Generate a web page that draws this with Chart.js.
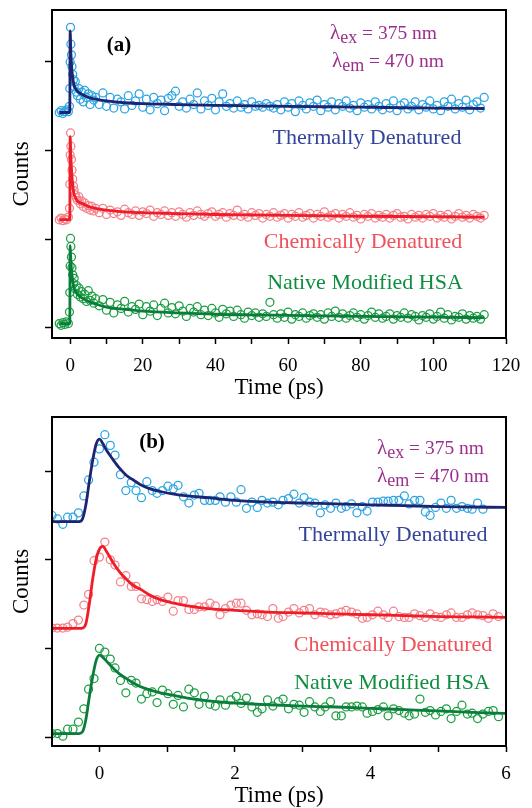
<!DOCTYPE html>
<html>
<head>
<meta charset="utf-8">
<script src="https://cdn.jsdelivr.net/npm/chart.js@4.4.1/dist/chart.umd.min.js"></script>
<style>
html,body{margin:0;padding:0;background:#fff;overflow:hidden;width:532px;height:808px}
.panel{position:absolute;left:0;width:532px}
#boxA{top:0}
#boxB{top:400px}
</style>
</head>
<body>
<div class="panel" id="boxA"><canvas id="chartA" width="532" height="406"></canvas></div>
<div class="panel" id="boxB"><canvas id="chartB" width="532" height="414"></canvas></div>
<script>
// panel (a): full 0-115 ps decay
const timeA = [-3,-2.5,-2,-1.5,-1,-0.5,-0.2,-0.1,0,0.1,0.2,0.35,0.5,0.7,0.9,1.1,1.4,1.7,2,2.4,2.8,3.2,3.6,4,4.5,5,5.5,6,6.5,7,
  8,9,10,11,12,13,14,15,16,17,18,19,20,21,22,23,24,25,26,27,28,29,30,31,32,33,34,35,36,37,38,39,40,41,42,43,44,45,46,47,
  48,49,50,51,52,53,54,55,56,57,58,59,60,61,62,63,64,65,66,67,68,69,70,71,72,73,74,75,76,77,78,79,80,81,82,83,84,85,86,87,
  88,89,90,91,92,93,94,95,96,97,98,99,100,101,102,103,104,105,106,107,108,109,110,111,112,113,114];
const thermalA = [2.43,2.45,2.42,2.44,2.46,2.44,2.50,2.70,3.00,3.39,3.20,3.08,2.95,2.86,2.80,2.72,2.78,2.66,2.62,2.70,
  2.58,2.66,2.55,2.68,2.60,2.64,2.52,2.62,2.57,2.60,
  2.52,2.65,2.50,2.60,2.48,2.58,2.55,2.47,2.62,2.51, 2.56,2.64,2.49,2.58,2.46,2.60,2.53,2.57,2.45,2.59,
  2.62,2.67,2.50,2.55,2.48,2.58,2.52,2.65,2.47,2.56, 2.51,2.59,2.46,2.55,2.64,2.50,2.53,2.48,2.56,2.49,
  2.52,2.47,2.55,2.50,2.51,2.49,2.53,2.50,2.48,2.52, 2.46,2.55,2.49,2.53,2.44,2.56,2.51,2.47,2.54,2.50,
  2.57,2.45,2.52,2.49,2.55,2.46,2.53,2.50,2.56,2.48, 2.51,2.45,2.54,2.49,2.52,2.47,2.55,2.50,2.46,2.53,
  2.48,2.56,2.45,2.51,2.54,2.47,2.50,2.55,2.46,2.52, 2.49,2.56,2.47,2.51,2.45,2.55,2.50,2.58,2.47,2.53,
  2.49,2.57,2.46,2.52,2.55,2.48,2.60];
const chemicalA = [1.22,1.24,1.21,1.23,1.22,1.25,1.35,1.62,1.95,2.20,2.05,1.90,1.78,1.68,1.60,1.55,1.50,1.47,1.44,1.48,
  1.40,1.43,1.37,1.41,1.35,1.38,1.33,1.37,1.32,1.35,
  1.30,1.35,1.28,1.33,1.29,1.31,1.27,1.34,1.30,1.28, 1.32,1.27,1.31,1.29,1.33,1.26,1.30,1.28,1.32,1.27,
  1.30,1.26,1.31,1.28,1.25,1.30,1.27,1.32,1.28,1.26, 1.29,1.31,1.26,1.28,1.30,1.25,1.29,1.27,1.33,1.26,
  1.28,1.25,1.30,1.27,1.29,1.24,1.28,1.26,1.30,1.25, 1.27,1.29,1.24,1.28,1.26,1.30,1.25,1.27,1.29,1.24,
  1.28,1.26,1.31,1.25,1.27,1.29,1.24,1.28,1.26,1.30, 1.25,1.27,1.23,1.28,1.26,1.29,1.24,1.27,1.25,1.28,
  1.24,1.27,1.29,1.25,1.26,1.23,1.28,1.25,1.27,1.24, 1.28,1.26,1.29,1.24,1.27,1.25,1.28,1.23,1.26,1.29,
  1.25,1.27,1.24,1.28,1.26,1.24,1.27];
const nativeA = [0.05,0.03,0.06,0.04,0.07,0.05,0.18,0.40,0.70,1.01,0.92,0.80,0.68,0.60,0.50,0.56,0.44,0.48,0.38,0.45,
  0.35,0.41,0.33,0.38,0.30,0.42,0.31,0.36,0.28,0.33,
  0.25,0.32,0.20,0.29,0.17,0.26,0.22,0.30,0.18,0.24, 0.21,0.27,0.15,0.24,0.19,0.26,0.14,0.22,0.28,0.17,
  0.23,0.16,0.25,0.19,0.13,0.22,0.18,0.24,0.15,0.20, 0.14,0.22,0.17,0.12,0.21,0.16,0.19,0.13,0.20,0.15,
  0.11,0.18,0.14,0.17,0.12,0.16,0.13,0.29,0.15,0.11, 0.16,0.12,0.18,0.10,0.15,0.13,0.17,0.11,0.14,0.16,
  0.12,0.15,0.10,0.17,0.13,0.19,0.12,0.16,0.11,0.14, 0.17,0.12,0.15,0.10,0.14,0.18,0.12,0.16,0.11,0.13,
  0.16,0.10,0.14,0.12,0.17,0.11,0.15,0.13,0.09,0.14, 0.12,0.16,0.10,0.13,0.18,0.11,0.15,0.09,0.13,0.12,
  0.16,0.10,0.14,0.11,0.13,0.10,0.15];
const fitTimeA = [-3,-0.1,0,0.2,0.5,1,1.5,2,3,4,5,7,10,15,20,30,40,50,60,80,100,114];
const thermalFitA = [2.43,2.43,3.35,3.10,2.90,2.75,2.70,2.67,2.64,2.62,2.60,2.58,2.56,2.54,2.53,2.52,2.51,2.505,2.50,2.49,2.48,2.475];
const chemicalFitA = [1.222,1.222,2.158,1.92,1.71,1.52,1.47,1.43,1.41,1.39,1.37,1.35,1.33,1.31,1.30,1.29,1.28,1.275,1.27,1.26,1.255,1.25];
const nativeFitA = [0.049,0.049,0.928,0.75,0.60,0.46,0.41,0.38,0.345,0.32,0.30,0.27,0.235,0.21,0.19,0.17,0.155,0.148,0.143,0.132,0.122,0.116];
const labeledA = [0,20,40,60,80,100,120];

// panel (b): first 6 ps
const timeB = [-0.70,-0.62,-0.54,-0.47,-0.39,-0.31,-0.23,-0.16,-0.08,0.00,0.08,0.16,0.23,0.31,0.39,0.47,0.54,0.62,0.70,0.78,
  0.85,0.93,1.01,1.09,1.16,1.24,1.32,1.40,1.47,1.55,1.63,1.71,1.78,1.86,1.94,2.02,2.09,2.17,2.25,2.33,
  2.40,2.48,2.56,2.64,2.71,2.79,2.87,2.95,3.02,3.10,3.18,3.26,3.33,3.41,3.49,3.57,3.64,3.72,3.80,3.88,
  3.95,4.03,4.11,4.19,4.26,4.34,4.42,4.50,4.57,4.65,4.73,4.81,4.88,4.96,5.04,5.12,5.19,5.27,5.35,5.43,
  5.50,5.58,5.66,5.74,5.81,5.89];
const thermalB = [2.50,2.46,2.40,2.48,2.48,2.53,2.72,2.90,3.10,3.25,3.41,3.29,3.18,2.96,2.78,2.87,2.78,2.70,2.88,2.78,
  2.75,2.78,2.83,2.80,2.84,2.71,2.64,2.73,2.75,2.67,2.67,2.67,2.71,2.65,2.71,2.65,2.79,2.58,2.65,2.59,
  2.67,2.64,2.65,2.62,2.67,2.69,2.74,2.64,2.70,2.65,2.64,2.53,2.62,2.58,2.64,2.58,2.60,2.63,2.53,2.60,
  2.55,2.65,2.65,2.66,2.66,2.67,2.67,2.72,2.63,2.67,2.67,2.54,2.50,2.59,2.64,2.58,2.67,2.58,2.60,2.58,
  2.57,2.64,2.57];
const chemicalB = [1.23,1.23,1.23,1.24,1.28,1.32,1.49,1.61,1.99,2.03,2.20,2.00,1.94,1.75,1.82,1.70,1.70,1.56,1.55,1.53,
  1.55,1.53,1.58,1.42,1.54,1.54,1.44,1.44,1.47,1.47,1.51,1.48,1.38,1.45,1.49,1.51,1.51,1.43,1.38,1.39,
  1.38,1.36,1.45,1.34,1.36,1.41,1.45,1.40,1.43,1.45,1.38,1.41,1.40,1.38,1.39,1.41,1.43,1.41,1.39,1.34,
  1.35,1.38,1.42,1.38,1.35,1.42,1.36,1.35,1.35,1.39,1.37,1.35,1.39,1.36,1.35,1.38,1.40,1.35,1.35,1.38,
  1.40,1.38,1.37,1.34,1.39,1.36];
const nativeB = [0.04,0.04,0.01,0.09,0.09,0.17,0.32,0.54,0.66,1.00,0.96,0.88,0.78,0.64,0.50,0.64,0.61,0.43,0.49,0.51,
  0.39,0.53,0.49,0.37,0.47,0.34,0.54,0.50,0.37,0.46,0.37,0.35,0.42,0.36,0.42,0.46,0.38,0.44,0.34,0.28,
  0.32,0.42,0.35,0.40,0.43,0.32,0.37,0.36,0.28,0.40,0.34,0.29,0.34,0.40,0.24,0.24,0.34,0.34,0.35,0.34,
  0.27,0.29,0.31,0.34,0.24,0.32,0.30,0.27,0.24,0.26,0.43,0.28,0.30,0.25,0.29,0.32,0.21,0.29,0.36,0.26,
  0.27,0.21,0.26,0.29,0.30,0.23];
const fitTimeB = [-0.70,-0.30,-0.25,-0.20,-0.15,-0.10,-0.05,0.00,0.05,0.10,0.20,0.30,0.40,0.50,0.60,0.75,0.90,1.10,1.30,1.60,
  2.00,2.50,3.00,3.50,4.00,4.50,5.00,5.50,6.00];
const thermalFitB = [2.43,2.43,2.46,2.62,2.88,3.12,3.30,3.36,3.31,3.24,3.13,3.03,2.95,2.90,2.85,2.80,2.77,2.74,2.72,2.70,
  2.67,2.65,2.64,2.63,2.62,2.61,2.60,2.595,2.59];
const chemicalFitB = [1.226,1.226,1.23,1.28,1.50,1.78,2.00,2.12,2.15,2.10,1.97,1.86,1.78,1.71,1.67,1.60,1.55,1.51,1.48,1.45,
  1.43,1.41,1.40,1.39,1.38,1.37,1.36,1.355,1.35];
const nativeFitB = [0.04,0.04,0.06,0.20,0.45,0.68,0.86,0.925,0.90,0.86,0.78,0.71,0.66,0.61,0.57,0.53,0.50,0.47,0.44,0.41,
  0.385,0.365,0.35,0.34,0.325,0.31,0.295,0.28,0.267];
const labeledB = [0,2,4,6];

const SERIF = "'Liberation Serif', 'Times New Roman', serif";
const pairs = (xs, ys) => ys.map((y, i) => ({ x: xs[i], y: y }));

function scatterSet(xs, ys, color, r) {
  return { type: 'scatter', data: pairs(xs, ys), borderColor: color, backgroundColor: 'rgba(0,0,0,0)',
    pointRadius: r, borderWidth: 1.25, showLine: false, order: 2 };
}
function fitSet(xs, ys, color) {
  return { type: 'line', data: pairs(xs, ys), borderColor: color, borderWidth: 2.8, pointRadius: 0,
    cubicInterpolationMode: 'monotone', fill: false, order: 1 };
}

// frame + text notes
const extras = {
  id: 'extras',
  afterDraw(chart, args, opts) {
    const ctx = chart.ctx, a = chart.chartArea;
    ctx.save();
    ctx.strokeStyle = '#000';
    ctx.lineWidth = 2;
    ctx.strokeRect(a.left, a.top, a.right - a.left, a.bottom - a.top);
    ctx.textBaseline = 'middle';
    for (const n of opts.notes) {
      ctx.font = n.font;
      ctx.fillStyle = n.color;
      ctx.textAlign = 'center';
      ctx.fillText(n.text, n.x, n.y);
    }
    ctx.textAlign = 'left';
    ctx.textBaseline = 'alphabetic';
    ctx.fillStyle = '#9b2f8f';
    for (const l of opts.lambdas) {
      let x = l.x;
      ctx.font = '21px ' + SERIF;
      ctx.fillText('\u03bb', x, l.y);
      x += ctx.measureText('\u03bb').width;
      ctx.font = '18px ' + SERIF;
      ctx.fillText(l.sub, x, l.y + 4);
      x += ctx.measureText(l.sub).width;
      ctx.font = '19.5px ' + SERIF;
      ctx.fillText(l.rest, x, l.y);
    }
    ctx.restore();
  }
};

function makeChart(id, cfg) {
  const fitX = s => { s.height = 68; s.paddingLeft = 0; s.paddingRight = 0; };
  const fitY = s => { s.width = 48; s.paddingTop = 0; s.paddingBottom = 0; };
  return new Chart(document.getElementById(id), {
    data: { datasets: cfg.datasets },
    options: {
      responsive: false,
      animation: false,
      layout: { padding: { top: cfg.top, right: 26, left: 4, bottom: 0 } },
      plugins: {
        legend: { display: false },
        tooltip: { enabled: false },
        extras: { notes: cfg.notes, lambdas: cfg.lambdas }
      },
      scales: {
        x: {
          type: 'linear', min: cfg.xmin, max: cfg.xmax,
          afterFit: fitX,
          grid: { drawOnChartArea: false, drawTicks: true, tickLength: 6, tickWidth: 1.5, tickColor: '#000' },
          border: { display: true, color: '#000', width: 2 },
          ticks: {
            stepSize: cfg.xstep, autoSkip: false, maxRotation: 0, includeBounds: false,
            padding: 11, color: '#000', font: { family: SERIF, size: 19 },
            callback: v => cfg.labeled.includes(v) ? String(v) : ''
          },
          title: { display: true, text: 'Time (ps)', color: '#000', font: { family: SERIF, size: 23 }, padding: { top: 0, bottom: 4 } }
        },
        y: {
          type: 'linear', min: cfg.ymin, max: cfg.ymax,
          afterFit: fitY,
          grid: { drawOnChartArea: false, drawTicks: true, tickLength: 7, tickWidth: 1.5, tickColor: '#000' },
          border: { display: true, color: '#000', width: 2 },
          ticks: { stepSize: 1, includeBounds: false, display: false },
          title: { display: true, text: 'Counts', color: '#000', font: { family: SERIF, size: 23 }, padding: { top: 4, bottom: 0 } }
        }
      }
    },
    plugins: [extras]
  });
}

makeChart('chartA', {
  top: 10, xmin: -5, xmax: 120, xstep: 10, labeled: labeledA, ymin: -0.113, ymax: 3.586,
  datasets: [
    fitSet(fitTimeA, thermalFitA, '#1d2573'),
    fitSet(fitTimeA, chemicalFitA, '#ee1d27'),
    fitSet(fitTimeA, nativeFitA, '#0b7d3a'),
    scatterSet(timeA, thermalA, '#2ba4e2', 4),
    scatterSet(timeA, chemicalA, '#f4818a', 4),
    scatterSet(timeA, nativeA, '#1c9e43', 4)
  ],
  notes: [
    { text: '(a)', x: 119, y: 46, font: 'bold 21px ' + SERIF, color: '#000' },
    { text: 'Thermally Denatured', x: 367, y: 138, font: '22px ' + SERIF, color: '#33449a' },
    { text: 'Chemically Denatured', x: 363, y: 242, font: '22px ' + SERIF, color: '#f0505a' },
    { text: 'Native Modified HSA', x: 365, y: 283, font: '22px ' + SERIF, color: '#0e8f40' }
  ],
  lambdas: [
    { x: 330, y: 39, sub: 'ex', rest: ' = 375 nm' },
    { x: 332, y: 67, sub: 'em', rest: ' = 470 nm' }
  ]
});

makeChart('chartB', {
  top: 17, xmin: -0.7, xmax: 6, xstep: 1, labeled: labeledB, ymin: -0.10, ymax: 3.61,
  datasets: [
    fitSet(fitTimeB, thermalFitB, '#1d2573'),
    fitSet(fitTimeB, chemicalFitB, '#ee1d27'),
    fitSet(fitTimeB, nativeFitB, '#0b7d3a'),
    scatterSet(timeB, thermalB, '#2ba4e2', 4),
    scatterSet(timeB, chemicalB, '#f4818a', 4),
    scatterSet(timeB, nativeB, '#1c9e43', 4)
  ],
  notes: [
    { text: '(b)', x: 152, y: 43, font: 'bold 21px ' + SERIF, color: '#000' },
    { text: 'Thermally Denatured', x: 393, y: 135, font: '22px ' + SERIF, color: '#33449a' },
    { text: 'Chemically Denatured', x: 393, y: 245, font: '22px ' + SERIF, color: '#f0505a' },
    { text: 'Native Modified HSA', x: 392, y: 283, font: '22px ' + SERIF, color: '#0e8f40' }
  ],
  lambdas: [
    { x: 377, y: 54, sub: 'ex', rest: ' = 375 nm' },
    { x: 377, y: 82, sub: 'em', rest: ' = 470 nm' }
  ]
});
</script>
</body>
</html>
